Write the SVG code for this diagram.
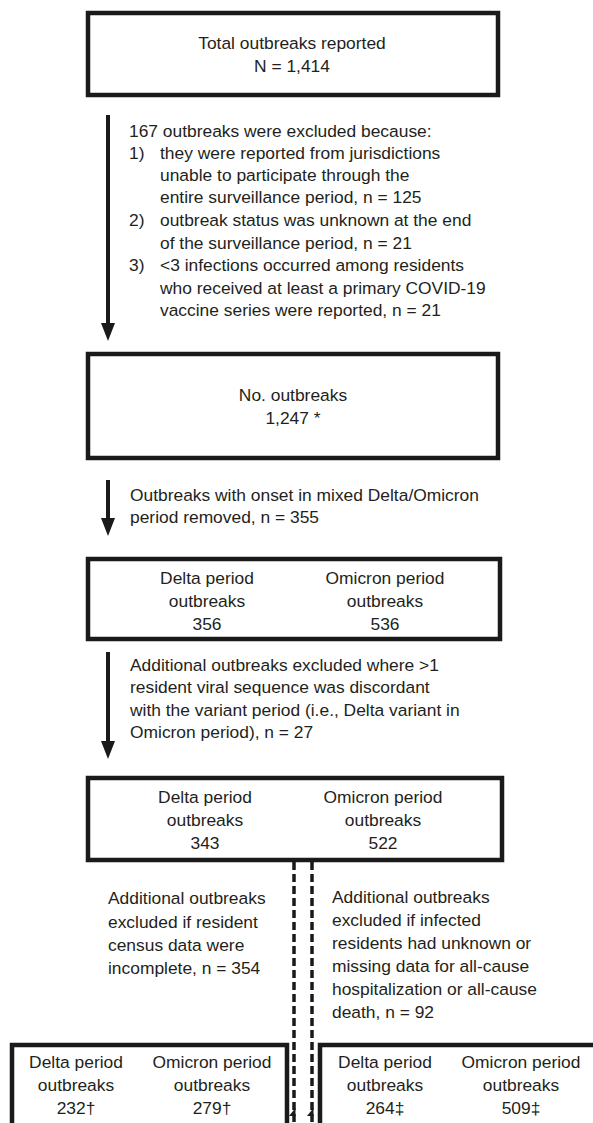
<svg xmlns="http://www.w3.org/2000/svg" width="593" height="1123" viewBox="0 0 593 1123">
<style>
.box{fill:#fff;stroke:#1a1a1a;stroke-width:4.5}
.t{font-family:"Liberation Sans",Arial,sans-serif;font-size:17.4px;fill:#231f20}
.c{text-anchor:middle}
.ln{stroke:#1a1a1a;stroke-width:4;fill:none}
.dash{stroke:#1a1a1a;stroke-width:3.5;fill:none;stroke-dasharray:8 4}
</style>
<rect width="593" height="1123" fill="#fff"/>

<g id="connectors">
<line class="ln" x1="108" y1="115" x2="108" y2="324"/>
<polygon points="101,323 115,323 108,341" fill="#1a1a1a"/>
<line class="ln" x1="108" y1="480" x2="108" y2="519"/>
<polygon points="101,518 115,518 108,536" fill="#1a1a1a"/>
<line class="ln" x1="108" y1="652" x2="108" y2="742"/>
<polygon points="101,741 115,741 108,759" fill="#1a1a1a"/>
<line class="dash" x1="294" y1="862" x2="294" y2="1123"/>
<line class="dash" x1="312" y1="862" x2="312" y2="1123"/>
<polygon points="289,1116 295.5,1108 295.5,1116" fill="#1a1a1a"/>
<polygon points="307,1116 313.5,1108 313.5,1116" fill="#1a1a1a"/>
</g>

<g id="n1">
<rect class="box" x="88" y="13" width="410" height="82"/>
<text class="t c" x="292" y="49">Total outbreaks reported</text>
<text class="t c" x="292" y="72">N = 1,414</text>
</g>

<g id="e1">
<text class="t" x="129" y="137">167 outbreaks were excluded because:</text>
<text class="t" x="129" y="159">1)</text>
<text class="t" x="160" y="159">they were reported from jurisdictions</text>
<text class="t" x="160" y="181">unable to participate through the</text>
<text class="t" x="160" y="203">entire surveillance period, n = 125</text>
<text class="t" x="129" y="226">2)</text>
<text class="t" x="160" y="226">outbreak status was unknown at the end</text>
<text class="t" x="160" y="249">of the surveillance period, n = 21</text>
<text class="t" x="129" y="271">3)</text>
<text class="t" x="160" y="271">&lt;3 infections occurred among residents</text>
<text class="t" x="160" y="294">who received at least a primary COVID-19</text>
<text class="t" x="160" y="316">vaccine series were reported, n = 21</text>
</g>

<g id="n2">
<rect class="box" x="88" y="354" width="410" height="104"/>
<text class="t c" x="293" y="401">No. outbreaks</text>
<text class="t c" x="293" y="424">1,247 *</text>
</g>

<g id="e2">
<text class="t" x="130" y="501">Outbreaks with onset in mixed Delta/Omicron</text>
<text class="t" x="130" y="523">period removed, n = 355</text>
</g>

<g id="n3">
<rect class="box" x="88" y="559" width="412" height="80"/>
<text class="t c" x="207" y="584">Delta period</text>
<text class="t c" x="207" y="607">outbreaks</text>
<text class="t c" x="207" y="630">356</text>
<text class="t c" x="385" y="584">Omicron period</text>
<text class="t c" x="385" y="607">outbreaks</text>
<text class="t c" x="385" y="630">536</text>
</g>

<g id="e3">
<text class="t" x="130" y="671">Additional outbreaks excluded where &gt;1</text>
<text class="t" x="130" y="693">resident viral sequence was discordant</text>
<text class="t" x="130" y="716">with the variant period (i.e., Delta variant in</text>
<text class="t" x="130" y="738">Omicron period), n = 27</text>
</g>

<g id="n4">
<rect class="box" x="88" y="778" width="414" height="82"/>
<text class="t c" x="205" y="803">Delta period</text>
<text class="t c" x="205" y="826">outbreaks</text>
<text class="t c" x="205" y="849">343</text>
<text class="t c" x="383" y="803">Omicron period</text>
<text class="t c" x="383" y="826">outbreaks</text>
<text class="t c" x="383" y="849">522</text>
</g>

<g id="e4">
<text class="t" x="108" y="904">Additional outbreaks</text>
<text class="t" x="108" y="928">excluded if resident</text>
<text class="t" x="108" y="951">census data were</text>
<text class="t" x="108" y="974">incomplete, n = 354</text>
</g>

<g id="e5">
<text class="t" x="332" y="903">Additional outbreaks</text>
<text class="t" x="332" y="926">excluded if infected</text>
<text class="t" x="332" y="949">residents had unknown or</text>
<text class="t" x="332" y="972">missing data for all-cause</text>
<text class="t" x="332" y="995">hospitalization or all-cause</text>
<text class="t" x="332" y="1018">death, n = 92</text>
</g>

<g id="n5">
<path class="box" d="M12,1130 V1045 H287 V1130"/>
<text class="t c" x="76" y="1068">Delta period</text>
<text class="t c" x="76" y="1091">outbreaks</text>
<text class="t c" x="76" y="1114">232†</text>
<text class="t c" x="212" y="1068">Omicron period</text>
<text class="t c" x="212" y="1091">outbreaks</text>
<text class="t c" x="212" y="1114">279†</text>
</g>

<g id="n6">
<path class="box" d="M320,1130 V1045 H600"/>
<text class="t c" x="385" y="1068">Delta period</text>
<text class="t c" x="385" y="1091">outbreaks</text>
<text class="t c" x="385" y="1114">264‡</text>
<text class="t c" x="521" y="1068">Omicron period</text>
<text class="t c" x="521" y="1091">outbreaks</text>
<text class="t c" x="521" y="1114">509‡</text>
</g>
</svg>
